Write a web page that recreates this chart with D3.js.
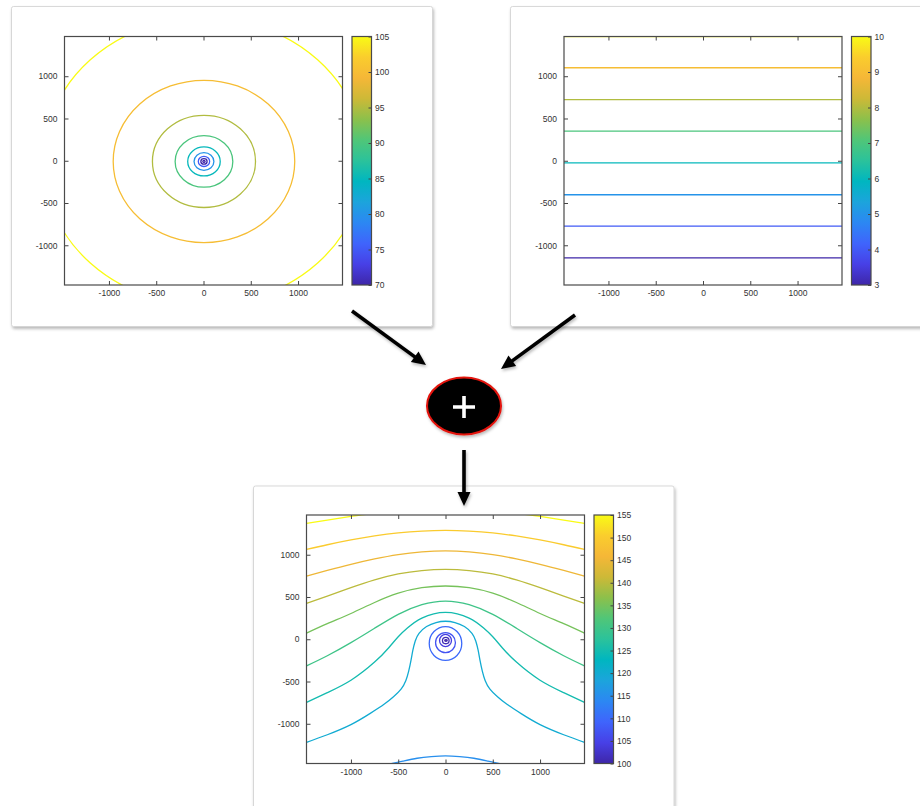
<!DOCTYPE html>
<html>
<head>
<meta charset="utf-8">
<script src="https://cdn.jsdelivr.net/npm/d3@7"></script>
<style>
body { margin: 0; background: #fff; }
</style>
</head>
<body>
<div id="chart-area"></div>
<script>
// ticks shared by all three plots
var extent = [-1470, 1470]
var xTicks = [-1000, -500, 0, 500, 1000]
var yTicks = [-1000, -500, 0, 500, 1000]

// plot 1 : rings round a point
var ringLevels = [70, 70, 75, 80, 85, 90, 95, 100, 105]
var ringRadii = [12, 33, 60, 105, 172, 305, 545, 960, 1700]
var ringCentre = [5, -8]
var bar1Ticks = [70, 75, 80, 85, 90, 95, 100, 105]

// plot 2 : flat bands
var bandLevels = [3, 4, 5, 6, 7, 8, 9, 10]
var bandY = [-1148, -773, -402, -24, 351, 722, 1100, 1468]
var bar2Ticks = [3, 4, 5, 6, 7, 8, 9, 10]

// plot 3 : the sum
var sumLevels = [155, 155, 150, 145, 140, 135, 130, 125, 120, 115]
var sumCurves = [
  [[-1470, 1370], [-1250, 1410], [-1000, 1453], [-860, 1475], [-700, 1495]],
  [[700, 1495], [860, 1475], [1000, 1453], [1250, 1410], [1470, 1370]],
  [[-1470, 1062], [-1250, 1118], [-1000, 1175], [-750, 1222], [-500, 1258], [-250, 1280], [0, 1288],
   [250, 1280], [500, 1258], [750, 1222], [1000, 1175], [1250, 1118], [1470, 1062]],
  [[-1470, 748], [-1250, 814], [-1000, 886], [-750, 950], [-500, 1002], [-250, 1034], [0, 1046],
   [250, 1034], [500, 1002], [750, 950], [1000, 886], [1250, 814], [1470, 748]],
  [[-1470, 425], [-1250, 510], [-1000, 610], [-750, 702], [-500, 773], [-250, 813], [0, 826],
   [250, 813], [500, 773], [750, 702], [1000, 610], [1250, 510], [1470, 425]],
  [[-1470, 73], [-1250, 185], [-1000, 305], [-750, 435], [-500, 545], [-250, 610], [0, 630],
   [250, 610], [500, 545], [750, 435], [1000, 305], [1250, 185], [1470, 73]],
  [[-1470, -315], [-1250, -195], [-1000, -40], [-750, 130], [-500, 295], [-250, 410], [0, 452],
   [250, 410], [500, 295], [750, 130], [1000, -40], [1250, -195], [1470, -315]],
  [[-1470, -748], [-1250, -632], [-1000, -485], [-750, -270], [-600, -100], [-500, 30], [-400, 135], [-250, 250], [0, 318],
   [250, 250], [400, 135], [500, 30], [600, -100], [750, -270], [1000, -485], [1250, -632], [1470, -748]],
  [[-1470, -1220], [-1250, -1130], [-1000, -1010], [-800, -880], [-650, -770], [-550, -680], [-470, -590], [-420, -490],
   [-390, -380], [-365, -250], [-345, -130], [-320, -20], [-280, 70], [-200, 150], [-100, 198], [0, 213],
   [100, 198], [200, 150], [280, 70], [320, -20], [345, -130], [365, -250], [390, -380], [420, -490],
   [470, -590], [550, -680], [650, -770], [800, -880], [1000, -1010], [1250, -1130], [1470, -1220]],
  [[-620, -1490], [-550, -1467], [-450, -1442], [-300, -1408], [-150, -1388], [0, -1379],
   [150, -1388], [300, -1408], [450, -1442], [550, -1467], [620, -1490]]
]
var sumRingLevels = [110, 107, 104, 101, 100]
var sumRingCx = [0, 0, 0, 3, 5]
var sumRingCy = [-50, -40, -15, -15, -15]
var sumRingRx = [172, 105, 63, 35, 13]
var sumRingRy = [200, 118, 72, 38, 9]
var bar3Ticks = [100, 105, 110, 115, 120, 125, 130, 135, 140, 145, 150, 155]

// parula-like colour map
var mapColours = ["#3e26a8", "#4740e6", "#3f64fc", "#2c87f3", "#1ca4dc", "#00b6c0", "#2bc29b",
  "#50c678", "#8cc04b", "#cdb937", "#f5b737", "#facd2d", "#f9fb15"]

var plotW = 278
var plotH = 248.5
var barGap = 9.5
var barW = 19.5
var fmt = d => String(d).replace("\u2212", "-")

var svg = d3.select("#chart-area").append("svg")
.attr("width", 920)
.attr("height", 806)
.style("display", "block")

var defs = svg.append("defs")

var shadow = defs.append("filter").attr("id", "shadow")
.attr("x", "-10%").attr("y", "-10%").attr("width", "120%").attr("height", "120%")
shadow.append("feDropShadow")
.attr("dx", 1).attr("dy", 2).attr("stdDeviation", 1.8)
.attr("flood-color", "#000").attr("flood-opacity", 0.28)

var grad = defs.append("linearGradient").attr("id", "parula")
.attr("x1", 0).attr("y1", 1).attr("x2", 0).attr("y2", 0)
mapColours.forEach((c, i) => {
  grad.append("stop").attr("offset", i / (mapColours.length - 1)).attr("stop-color", c)
})

// cards
var cards = [
  {x: 11.5, y: 6.5, w: 421, h: 320},
  {x: 510.5, y: 6.5, w: 430, h: 320},
  {x: 253.5, y: 486, w: 420.5, h: 340}
]
svg.selectAll("rect.card").data(cards).enter().append("rect")
.attr("class", "card")
.attr("x", d => d.x).attr("y", d => d.y)
.attr("width", d => d.w).attr("height", d => d.h)
.attr("rx", 2)
.attr("fill", "#fff")
.attr("stroke", "#cfcfcf")
.attr("stroke-width", 0.8)
.attr("filter", "url(#shadow)")

var panelCount = 0

const styleAxis = (ag) => {
  ag.select(".domain").remove()
  ag.selectAll("line").attr("stroke", "#444")
  ag.selectAll("text").attr("fill", "#333")
  .attr("font-family", "'Liberation Sans', Arial, sans-serif")
  .attr("font-size", "8.5px")
}

const drawPanel = (left, top, range, barTicks) => {
  panelCount++
  var g = svg.append("g").attr("transform", "translate(" + left + ", " + top + ")")

  var x = d3.scaleLinear().domain(extent).range([0, plotW])
  var y = d3.scaleLinear().domain(extent).range([plotH, 0])
  var c = d3.scaleLinear()
  .domain(mapColours.map((m, i) => range[0] + (range[1] - range[0]) * i / (mapColours.length - 1)))
  .range(mapColours)
  .clamp(true)

  var clipId = "clip" + panelCount
  defs.append("clipPath").attr("id", clipId)
  .append("rect").attr("width", plotW).attr("height", plotH)

  var inner = g.append("g").attr("clip-path", "url(#" + clipId + ")")

  var after = () => {
    var axes = [
      {call: d3.axisBottom(x).tickValues(xTicks).tickSize(-4).tickPadding(5).tickFormat(fmt), t: "translate(0," + plotH + ")"},
      {call: d3.axisTop(x).tickValues(xTicks).tickSize(-4).tickFormat(""), t: "translate(0,0)"},
      {call: d3.axisLeft(y).tickValues(yTicks).tickSize(-4).tickPadding(7).tickFormat(fmt), t: "translate(0,0)"},
      {call: d3.axisRight(y).tickValues(yTicks).tickSize(-4).tickFormat(""), t: "translate(" + plotW + ",0)"}
    ]
    axes.forEach(a => {
      styleAxis(g.append("g").attr("transform", a.t).call(a.call))
    })

    g.append("rect")
    .attr("width", plotW).attr("height", plotH)
    .attr("fill", "none").attr("stroke", "#4a4a4a").attr("stroke-width", 1.2)

    // colour bar
    var cy = d3.scaleLinear().domain(range).range([plotH, 0])
    var bar = g.append("g").attr("transform", "translate(" + (plotW + barGap) + ",0)")
    bar.append("rect")
    .attr("width", barW).attr("height", plotH)
    .attr("fill", "url(#parula)")
    styleAxis(bar.append("g").attr("transform", "translate(" + barW + ",0)")
    .call(d3.axisRight(cy).tickValues(barTicks).tickSize(-3).tickPadding(3.5).tickFormat(fmt)))
    bar.append("rect")
    .attr("width", barW).attr("height", plotH)
    .attr("fill", "none").attr("stroke", "#4a4a4a").attr("stroke-width", 1.2)
  }

  return {g: inner, x: x, y: y, c: c, after: after}
}

// PLOT 1
var p1 = drawPanel(64.5, 36.5, [70, 105], bar1Ticks)
p1.g.selectAll("ellipse").data(ringRadii).enter().append("ellipse")
.attr("cx", p1.x(ringCentre[0]))
.attr("cy", p1.y(ringCentre[1]))
.attr("rx", d => p1.x(d) - p1.x(0))
.attr("ry", d => p1.y(0) - p1.y(d))
.attr("fill", "none")
.attr("stroke", (d, i) => p1.c(ringLevels[i]))
.attr("stroke-width", 1.3)
p1.after()

// PLOT 2
var p2 = drawPanel(564, 36.5, [3, 10], bar2Ticks)
p2.g.selectAll("line").data(bandY).enter().append("line")
.attr("x1", p2.x(extent[0]))
.attr("x2", p2.x(extent[1]))
.attr("y1", d => p2.y(d))
.attr("y2", d => p2.y(d))
.attr("stroke", (d, i) => p2.c(bandLevels[i]))
.attr("stroke-width", 1.3)
p2.after()

// PLOT 3
var p3 = drawPanel(306.5, 515, [100, 155], bar3Ticks)
var line3 = d3.line()
.x(d => p3.x(d[0]))
.y(d => p3.y(d[1]))
.curve(d3.curveNatural)
p3.g.selectAll("path").data(sumCurves).enter().append("path")
.attr("d", line3)
.attr("fill", "none")
.attr("stroke", (d, i) => p3.c(sumLevels[i]))
.attr("stroke-width", 1.3)
p3.g.selectAll("ellipse").data(sumRingLevels).enter().append("ellipse")
.attr("cx", (d, i) => p3.x(sumRingCx[i]))
.attr("cy", (d, i) => p3.y(sumRingCy[i]))
.attr("rx", (d, i) => p3.x(sumRingRx[i]) - p3.x(0))
.attr("ry", (d, i) => p3.y(0) - p3.y(sumRingRy[i]))
.attr("fill", "none")
.attr("stroke", d => p3.c(d))
.attr("stroke-width", 1.3)
p3.after()

// ARROWS
var arrows = [
  {x1: 352, y1: 311, x2: 426, y2: 365},
  {x1: 575, y1: 315, x2: 501, y2: 369},
  {x1: 464, y1: 450, x2: 464, y2: 506}
]
var headLen = 14
var headHalf = 6.5
var arrowG = svg.append("g").attr("filter", "url(#shadow)")
arrows.forEach(a => {
  var ang = Math.atan2(a.y2 - a.y1, a.x2 - a.x1)
  var bx = a.x2 - headLen * Math.cos(ang)
  var by = a.y2 - headLen * Math.sin(ang)
  arrowG.append("line")
  .attr("x1", a.x1).attr("y1", a.y1)
  .attr("x2", bx + Math.cos(ang)).attr("y2", by + Math.sin(ang))
  .attr("stroke", "#000").attr("stroke-width", 3.6)
  arrowG.append("polygon")
  .attr("points", [
    [a.x2, a.y2],
    [bx - headHalf * Math.sin(ang), by + headHalf * Math.cos(ang)],
    [bx + headHalf * Math.sin(ang), by - headHalf * Math.cos(ang)]
  ].map(p => p.join(",")).join(" "))
  .attr("fill", "#000")
})

// PLUS NODE
svg.append("ellipse")
.attr("cx", 464).attr("cy", 406)
.attr("rx", 37).attr("ry", 28.5)
.attr("fill", "#000")
.attr("stroke", "#e3120b")
.attr("stroke-width", 2)
.attr("filter", "url(#shadow)")
svg.append("path")
.attr("d", "M453,407H475M464,396V418")
.attr("stroke", "#fff")
.attr("stroke-width", 3.6)
</script>
</body>
</html>
